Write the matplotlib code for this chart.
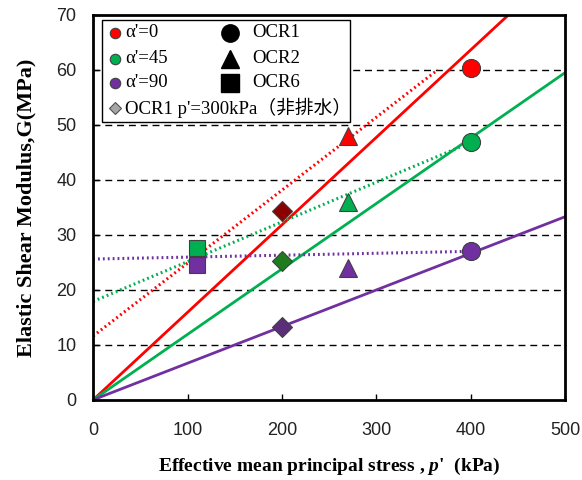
import matplotlib.pyplot as plt
from matplotlib.patches import Rectangle
from matplotlib.lines import Line2D

# series colours: alpha' = 0, 45, 90
colors = ['#FF0000', '#00B050', '#7030A0']
dia_colors = ['#8B0000', '#1E7B1E', '#5C2E7A']
alpha_labels = ["α'=0", "α'=45", "α'=90"]

# measured points
p_ocr1 = 400
G_ocr1 = [60.3, 46.8, 27.0]
p_ocr2 = 270
G_ocr2 = [48.0, 36.0, 24.0]
p_ocr6 = 110
G_ocr6 = [None, 27.7, 24.5]
p_und = 200
G_und = [34.4, 25.3, 13.3]

# solid lines through origin (end points)
solid_p = [[0, 440], [0, 500], [0, 500]]
solid_G = [[0, 70.0], [0, 59.5], [0, 33.3]]
# dotted lines (end points)
dot_p = [[0, 365], [0, 400], [0, 400]]
dot_G = [[11.6, 60.0], [17.9, 46.8], [25.6, 27.0]]

serif = ['Liberation Serif', 'Noto Sans CJK JP', 'DejaVu Sans']
plt.rcParams['font.family'] = ['Liberation Sans', 'Noto Sans CJK JP', 'DejaVu Sans']
plt.rcParams['mathtext.fontset'] = 'custom'
plt.rcParams['mathtext.bfit'] = 'Liberation Serif:bold:italic'
plt.rcParams['mathtext.it'] = 'Liberation Serif:bold:italic'

fig = plt.figure(figsize=(5.82, 4.8), dpi=100)
ax = fig.add_axes([0.160, 0.167, 0.811, 0.802])

for y in range(10, 70, 10):
    ax.axhline(y, color='black', lw=1.0, ls=(0, (5, 3.5)), zorder=1)

for i in range(3):
    ax.plot(solid_p[i], solid_G[i], color=colors[i], lw=2.0, zorder=2)
    ax.plot(dot_p[i], dot_G[i], color=colors[i], lw=2.2, ls=(0, (0.6, 1.0)), zorder=2)

ms_kw = dict(markeredgecolor='#404040', markeredgewidth=0.8, ls='none', zorder=4)
for i in range(3):
    ax.plot(p_ocr1, G_ocr1[i], 'o', ms=13, color=colors[i], **ms_kw)
    ax.plot(p_ocr2, G_ocr2[i], '^', ms=13, color=colors[i], **ms_kw)
    if G_ocr6[i] is not None:
        ax.plot(p_ocr6, G_ocr6[i], 's', ms=12, color=colors[i], **ms_kw)
    ax.plot(p_und, G_und[i], 'D', ms=10, color=dia_colors[i], **ms_kw)

ax.set_xlim(0, 500)
ax.set_ylim(0, 70)
ax.set_xticks(range(0, 501, 100))
ax.set_yticks(range(0, 71, 10))
ax.tick_params(direction='in', length=4, width=1, labelsize=13,
               colors='black', labelcolor='#222222')
ax.tick_params(axis='x', pad=16)
ax.tick_params(axis='y', pad=12)
for s in ax.spines.values():
    s.set_linewidth(2)

ax.set_xlabel("Effective mean principal stress , $p$'  (kPa)",
              family=serif, fontweight='bold', fontsize=14, labelpad=12)
ax.set_ylabel('Elastic Shear Modulus,G(MPa)', family=serif,
              fontweight='bold', fontsize=16, labelpad=14)

# legend drawn by hand (two columns + a wide bottom row)
T = ax.transAxes
def ax_xy(px, py):
    return ((px - 93) / 472.0, (400 - py) / 385.0)

x0, y0 = ax_xy(102, 122)
x1, y1 = ax_xy(350, 20)
ax.add_patch(Rectangle((x0, y0), x1 - x0, y1 - y0, transform=T, fill=True,
                       facecolor='white', edgecolor='black', lw=1.0, zorder=5))
rows = [33, 59, 83, 108]
for i in range(3):
    mx, my = ax_xy(115, rows[i])
    ax.add_line(Line2D([mx], [my], marker='o', ms=7.5, color=colors[i],
                       markeredgecolor='#404040', markeredgewidth=0.8,
                       transform=T, zorder=6))
    tx, _ = ax_xy(125, rows[i])
    ax.text(tx, my, alpha_labels[i], transform=T, va='center', ha='left',
            fontsize=13.5, family=serif, zorder=6)
for i, (m, lab) in enumerate([('o', 'OCR1'), ('^', 'OCR2'), ('s', 'OCR6')]):
    mx, my = ax_xy(230, rows[i])
    ax.add_line(Line2D([mx], [my], marker=m, ms=12.5, color='black',
                       transform=T, zorder=6))
    tx, _ = ax_xy(252, rows[i])
    ax.text(tx, my, lab, transform=T, va='center', ha='left',
            fontsize=13.5, family=serif, zorder=6)
mx, my = ax_xy(115, rows[3])
ax.add_line(Line2D([mx], [my], marker='D', ms=6.5, color='#A6A6A6',
                   markeredgecolor='#505050', markeredgewidth=0.8,
                   transform=T, zorder=6))
tx, _ = ax_xy(125, rows[3])
ax.text(tx, my, "OCR1 p'=300kPa（非排水）", transform=T, va='center', ha='left',
        fontsize=13.5, family=serif, zorder=6)

fig.savefig('out.png', dpi=100)
